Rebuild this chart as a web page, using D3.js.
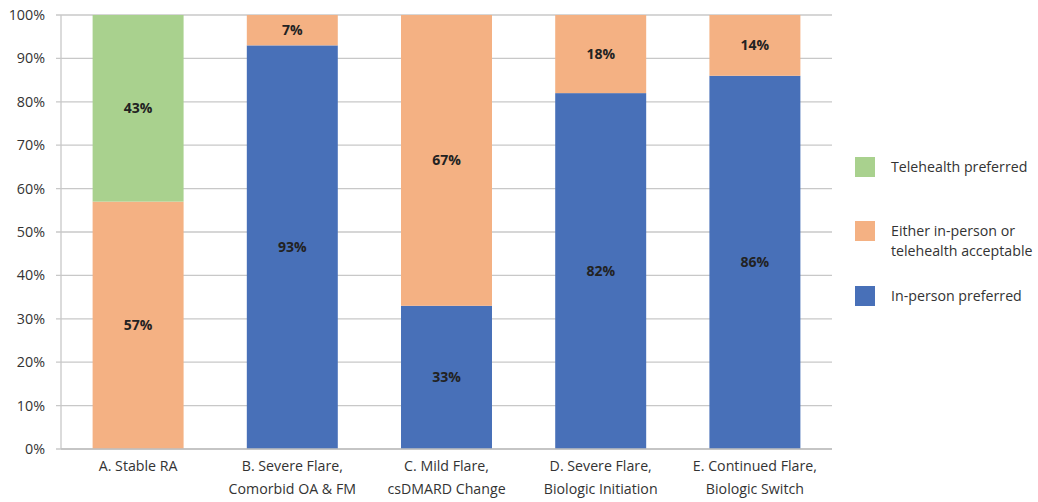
<!DOCTYPE html>
<html><head><meta charset="utf-8">
<script src="https://cdn.jsdelivr.net/npm/d3@7"></script>
<style>body{margin:0;background:#fff;} svg{display:block;font-family:"Open Sans","Noto Sans",sans-serif;}</style>
</head><body>
<svg id="c" width="1038" height="502"></svg>
<script>
const categories = [
  ["A. Stable RA"],
  ["B. Severe Flare,", "Comorbid OA & FM"],
  ["C. Mild Flare,", "csDMARD Change"],
  ["D. Severe Flare,", "Biologic Initiation"],
  ["E. Continued Flare,", "Biologic Switch"]
];
const inPerson = [0, 93, 33, 82, 86];
const either = [57, 7, 67, 18, 14];
const telehealth = [43, 0, 0, 0, 0];
const seriesNames = ["In-person preferred", "Either in-person or telehealth acceptable", "Telehealth preferred"];
const colors = ["#4870B8", "#F4B183", "#A9D18E"];
const yTicks = [0,10,20,30,40,50,60,70,80,90,100];

const W = 1038, H = 502;
const m = {l:61, r:206, t:15, b:53};
const svg = d3.select("#c");
const keys = categories.map((c,i)=>i);
const x = d3.scaleBand().domain(keys).range([m.l, W-m.r]).paddingInner(0.41).paddingOuter(0.205);
const y = d3.scaleLinear().domain([0,100]).range([H-m.b, m.t]);

// gridlines
svg.append("g").selectAll("line").data(yTicks).join("line")
  .attr("x1", m.l-5).attr("x2", W-m.r)
  .attr("y1", d=>y(d)).attr("y2", d=>y(d))
  .attr("stroke", "#c8c8c8").attr("stroke-width", 1.3);
// y axis line
svg.append("line").attr("x1", m.l).attr("x2", m.l).attr("y1", y(0)).attr("y2", y(100))
  .attr("stroke", "#c8c8c8").attr("stroke-width", 1.3);
// y labels
svg.append("g").selectAll("text").data(yTicks).join("text")
  .attr("x", 45).attr("y", d=>y(d)).attr("dy", "0.35em")
  .attr("text-anchor", "end").attr("font-size", 14.3).attr("fill", "#333")
  .text(d=>d+"%");

const rows = keys.map(i=>({i, s0: inPerson[i], s1: either[i], s2: telehealth[i]}));
const stack = d3.stack().keys(["s0","s1","s2"])(rows);
stack.forEach((layer, li)=>{
  const g = svg.append("g");
  g.selectAll("rect").data(layer.filter(d=>d[1]-d[0]>0)).join("rect")
    .attr("x", d=>x(d.data.i)).attr("width", x.bandwidth())
    .attr("y", d=>y(d[1])).attr("height", d=>y(d[0])-y(d[1]))
    .attr("fill", colors[li]);
  g.selectAll("text").data(layer.filter(d=>d[1]-d[0]>0)).join("text")
    .attr("x", d=>x(d.data.i)+x.bandwidth()/2).attr("y", d=>y((d[0]+d[1])/2)).attr("dy","0.35em")
    .attr("text-anchor","middle").attr("font-weight","bold").attr("font-size",14).attr("fill","#222")
    .text(d=>(d[1]-d[0])+"%");
});
// baseline
svg.append("line").attr("x1", m.l).attr("x2", W-m.r).attr("y1", y(0)).attr("y2", y(0))
  .attr("stroke", "#bfbfbf").attr("stroke-width", 1.5);

// x labels
const xl = svg.append("g").selectAll("text").data(keys).join("text")
  .attr("x", i=>x(i)+x.bandwidth()/2).attr("y", 471)
  .attr("text-anchor","middle").attr("font-size",14.2).attr("fill","#333");
xl.selectAll("tspan").data(i=>categories[i].map(t=>({t, x: x(i)+x.bandwidth()/2}))).join("tspan")
  .attr("x", d=>d.x).attr("dy", (d,j)=>j? 23 : 0).text(d=>d.t);

// legend
const legend = [
  {c: colors[2], lines: ["Telehealth preferred"], y: 167},
  {c: colors[1], lines: ["Either in-person or", "telehealth acceptable"], y: 231},
  {c: colors[0], lines: ["In-person preferred"], y: 296}
];
const lg = svg.append("g").selectAll("g").data(legend).join("g");
lg.append("rect").attr("x", 855).attr("y", d=>d.y-10).attr("width", 20).attr("height", 20).attr("fill", d=>d.c);
const lt = lg.append("text").attr("x", 891).attr("y", d=>d.y).attr("font-size",14.2).attr("fill","#333");
lt.selectAll("tspan").data(d=>d.lines).join("tspan").attr("x", 891).attr("dy", (d,j)=>j? 20 : "0.35em").text(d=>d);
</script>
</body></html>
